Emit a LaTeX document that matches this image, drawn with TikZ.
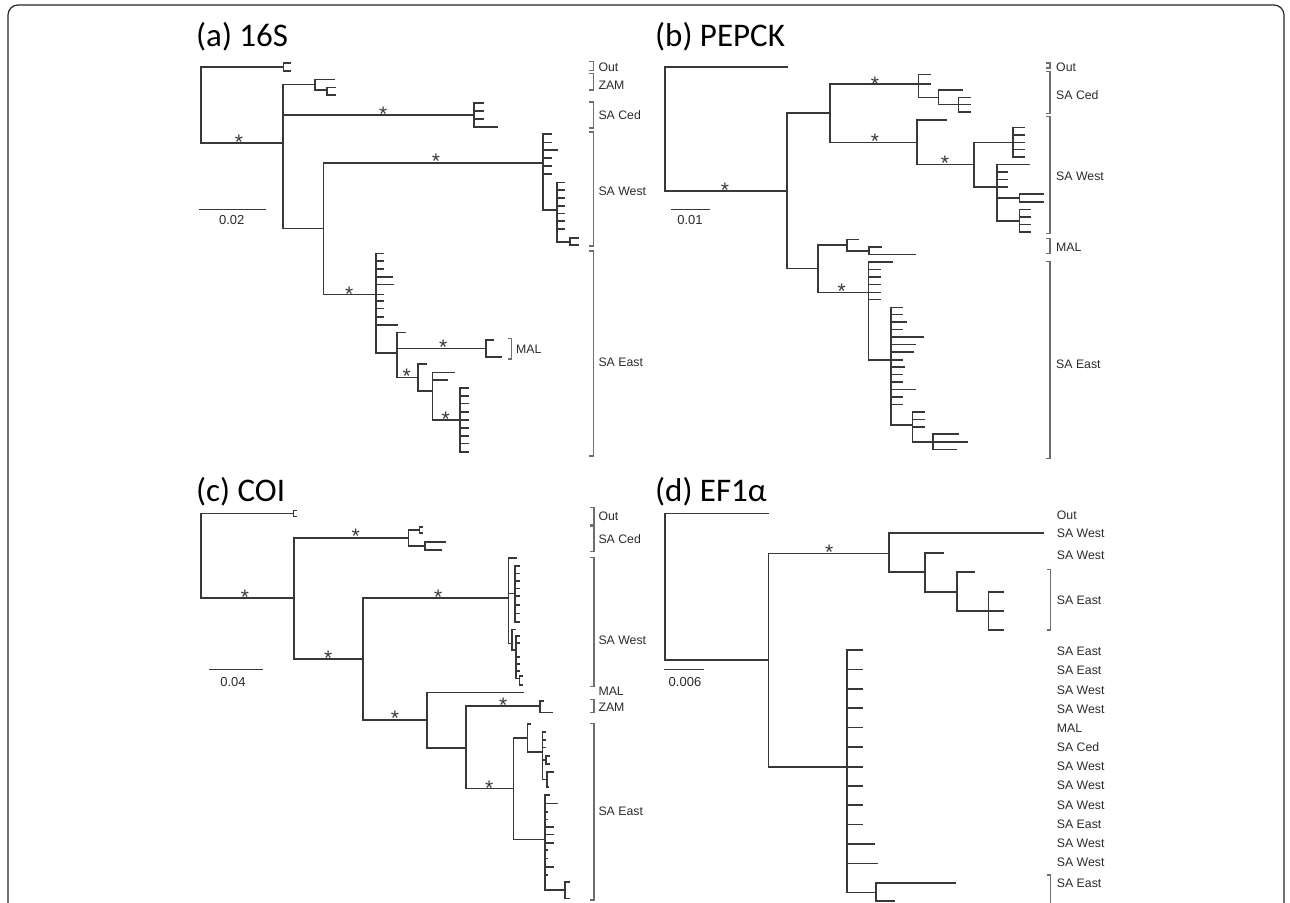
\documentclass[tikz,border=0pt]{standalone}
\usepackage{fontspec}
\setmainfont{Liberation Sans}
\newfontfamily\titlefont{Carlito}
\definecolor{brc}{HTML}{383838}
\definecolor{bkc}{HTML}{6E6E6E}
\definecolor{txc}{HTML}{2A2A2A}
\newcommand\tk[3]{\foreach \yy in {#3}{\draw[br] (#1,\yy) -- (#2,\yy);}}
\newcommand\brk[3]{\draw[bk] (#1-4,#2) -- (#1,#2) -- (#1,#3) -- (#1-4,#3);}
\newcommand\st[3]{\node[stf, anchor=base] (#1) at (#2,#3+11) {*};}
\begin{document}
\begin{tikzpicture}[x=1pt,y=-1pt,
  br/.style={line width=1.6pt, draw=brc, line cap=rect},
  bk/.style={line width=1.1pt, draw=bkc},
  lab/.style={font=\fontsize{12.3}{13}\selectfont, text=txc, anchor=west, inner sep=0pt},
  sc/.style={font=\fontsize{13}{13}\selectfont, text=txc, inner sep=0pt},
  stf/.style={font=\fontsize{21}{21}\selectfont, text=brc, inner sep=0pt},
  ttl/.style={font=\titlefont\fontsize{33}{33}\selectfont, text=black, anchor=base west, inner sep=0pt}]
\useasboundingbox (0,0) rectangle (1290,902);
\clip (0,0) rectangle (1290,902);
% frame
\draw[line width=1.2pt, draw=black!85, rounded corners=10pt] (8,930) -- (8,5) -- (1284,5) -- (1284,930);

% ================= (a) 16S =================
\node[ttl] (ta) at (196,46) {(a) 16S};
\draw[br] (283.3,66.7) -- (201,66.7) -- (201,142.7) -- (282.7,142.7);
\draw[br] (290,62.7) -- (283.3,62.7) -- (283.3,70.7) -- (290,70.7);
\st{sa1}{239}{138}
\draw[br] (315,84.3) -- (282.7,84.3) -- (282.7,228.3) -- (323.3,228.3);
\draw[br] (334,79.3) -- (315,79.3) -- (315,90) -- (326.7,90);
\draw[br] (335,87.3) -- (326.7,87.3) -- (326.7,95) -- (335,95);
\draw[br] (282.7,115) -- (474,115);
\st{sa2}{383.3}{110}
\draw[br] (482.7,102.7) -- (474,102.7) -- (474,126.7) -- (496.7,126.7);
\tk{474}{482.7}{110.7,118.7}
\draw[br] (542.7,162.7) -- (323.3,162.7) -- (323.3,294.3) -- (383.3,294.3);
\st{sa3}{436}{157.3}
\draw[br] (542.7,134) -- (542.7,210) -- (556.7,210);
\tk{542.7}{550.7}{134,142.3,157.7,165.7,174}
\tk{542.7}{557.3}{150}
\draw[br] (556.7,182.3) -- (556.7,241.7) -- (570,241.7);
\tk{556.7}{564}{182.3,190,197.7,205.7,213.3,221,229}
\draw[br] (578.3,237.7) -- (570,237.7) -- (570,245) -- (578.3,245);
\st{sa4}{349.3}{290}
\draw[br] (376,253.3) -- (376,352.7) -- (396.7,352.7);
\tk{376}{383.3}{253.3,261,269,300.7,308.3,316.7}
\tk{376}{391.7}{276.7}
\tk{376}{392.7}{284.3}
\tk{376}{396.7}{325}
\draw[br] (405,332.3) -- (396.7,332.3) -- (396.7,377.3) -- (417.7,377.3);
\draw[br] (396.7,348.3) -- (486,348.3);
\st{sa5}{443.3}{343}
\draw[br] (492.7,340) -- (486,340) -- (486,356.7) -- (501,356.7);
\st{sa6}{406.7}{372.7}
\draw[br] (426,364) -- (417.7,364) -- (417.7,390.7) -- (432.3,390.7);
\draw[br] (454,372.3) -- (432.3,372.3) -- (432.3,420) -- (460,420);
\tk{432.3}{446.7}{380}
\st{sa7}{445.7}{415}
\draw[br] (460,387.7) -- (460,451.7);
\tk{460}{468.3}{387.7,395.7,403.3,411.7,420,427.7,435.7,443.3,451.7}
% MAL bracket
\brk{511.7}{338.3}{359}
\node[lab] (aMAL) at (516,349) {MAL};
% clade brackets
\brk{593.3}{61.7}{70.7}
\node[lab] (aOut) at (598.3,67) {Out};
\brk{593.3}{73.3}{90}
\node[lab] (aZAM) at (598.3,85) {ZAM};
\brk{593.3}{102}{128}
\node[lab] (aCed) at (598.3,115) {SA Ced};
\brk{593.3}{132}{246}
\node[lab] (aWest) at (598.3,191) {SA West};
\brk{593.3}{251}{456}
\node[lab] (aEast) at (598.3,362) {SA East};
% scale
\draw[br, line width=1.1pt] (199.3,209.3) -- (265,209.3);
\node[sc] (ascale) at (231.7,220.5) {0.02};

% ================= (b) PEPCK =================
\node[ttl] (tb) at (655,46) {(b) PEPCK};
\draw[br] (787.3,66.7) -- (665,66.7) -- (665,191) -- (786.7,191);
\st{sb1}{725}{186}
\draw[br] (830,112.7) -- (786.7,112.7) -- (786.7,268.3) -- (817.7,268.3);
\draw[br] (918.3,84) -- (830,84) -- (830,142.3) -- (916.7,142.3);
\st{sb2}{875}{80}
\st{sb3}{875}{137.3}
\draw[br] (930,74.3) -- (918.3,74.3) -- (918.3,97.3) -- (938.3,97.3);
\tk{918.3}{930}{84}
\draw[br] (961.7,90) -- (938.3,90) -- (938.3,104.3) -- (958.3,104.3);
\draw[br] (958.3,97.3) -- (958.3,111.7);
\tk{958.3}{970}{97.3,104.3,111.7}
\draw[br] (946,120) -- (916.7,120) -- (916.7,164.3) -- (974,164.3);
\st{sb4}{945}{159.3}
\draw[br] (1012.7,142.3) -- (974,142.3) -- (974,186.7) -- (996.7,186.7);
\draw[br] (1012.7,127.3) -- (1012.7,156.7);
\tk{1012.7}{1024}{127.3,135,142.3,149.3,156.7}
\draw[br] (1029.3,164.3) -- (996.7,164.3) -- (996.7,220.7) -- (1019.3,220.7);
\tk{996.7}{1007.3}{171.7,179.3,186.7}
\draw[br] (996.7,197.7) -- (1019.3,197.7);
\draw[br] (1042.7,194) -- (1019.3,194) -- (1019.3,201.7) -- (1042.7,201.7);
\draw[br] (1019.3,209.3) -- (1019.3,231.7);
\tk{1019.3}{1030}{209.3,216.7,224.3,231.7}
\draw[br] (846.7,245) -- (817.7,245) -- (817.7,292.3) -- (868.3,292.3);
\st{sb5}{841.7}{287.3}
\draw[br] (858.3,239.3) -- (846.7,239.3) -- (846.7,250.7) -- (869,250.7);
\draw[br] (881,246.7) -- (869,246.7) -- (869,254.3) -- (915,254.3);
\draw[br] (891.7,261.7) -- (868.3,261.7) -- (868.3,360) -- (902.3,360);
\tk{868.3}{880}{269.3,276.7,284.3,292.3,299.3}
\draw[br] (890.7,307.3) -- (890.7,425) -- (912.3,425);
\tk{890.7}{902.3}{307.3,314.3,329.3,374.3,381.7,396.7,404.3}
\tk{890.7}{905.7}{321.7}
\tk{890.7}{923.3}{336.7}
\tk{890.7}{915}{344.3,389.3}
\tk{890.7}{913.3}{351.7}
\tk{890.7}{904.3}{366.7}
\draw[br] (912.3,411.7) -- (912.3,441.7) -- (932.7,441.7);
\tk{912.3}{924.3}{411.7,419.3,426.7}
\draw[br] (958.3,434) -- (932.7,434) -- (932.7,449.3) -- (956,449.3);
\tk{932.7}{967.3}{441.7}
% brackets
\brk{1050}{63}{68}
\node[lab] (bOut) at (1056,67) {Out};
\brk{1050}{71.7}{113.3}
\node[lab] (bCed) at (1056,95) {SA Ced};
\brk{1050}{116.7}{233.3}
\node[lab] (bWest) at (1056,176.7) {SA West};
\brk{1050}{238.3}{253.3}
\node[lab] (bMAL) at (1056,247) {MAL};
\brk{1050}{261.7}{458.3}
\node[lab] (bEast) at (1056,364) {SA East};
\draw[br, line width=1.1pt] (671.7,209.3) -- (709.3,209.3);
\node[sc] (bscale) at (690,220) {0.01};

% ================= (c) COI =================
\node[ttl] (tc) at (196,501) {(c) COI};
\draw[br] (293.3,513.3) -- (201,513.3) -- (201,597.7) -- (294,597.7);
\draw[br] (296,510.5) -- (293.3,510.5) -- (293.3,516.5) -- (296,516.5);
\st{sc1}{245}{593.3}
\draw[br] (408.3,537.7) -- (294,537.7) -- (294,659) -- (362.7,659);
\st{sc2}{355.7}{532.7}
\st{sc3}{328.3}{654}
\draw[br] (419.3,530) -- (408.3,530) -- (408.3,546) -- (425,546);
\draw[br] (421.7,527) -- (419.3,527) -- (419.3,533) -- (421.7,533);
\draw[br] (445,541.7) -- (425,541.7) -- (425,550) -- (440.7,550);
\draw[br] (508.3,597.7) -- (362.7,597.7) -- (362.7,720) -- (426.7,720);
\st{sc4}{438.3}{593.3}
\st{sc5}{395}{714}
\draw[br] (516,557.7) -- (508.3,557.7) -- (508.3,643.3) -- (511.7,643.3);
\tk{508.3}{515}{593.3}
\draw[br] (515,565.7) -- (515,621.7);
\tk{515}{519.3}{565.7,573.3,581,588.3,596,605,613.3,621.7}
\draw[br] (515,629.3) -- (511.7,629.3) -- (511.7,650) -- (516,650);
\draw[br] (516,636) -- (516,678.3) -- (519.3,678.3);
\tk{516}{519.3}{636,643,657,664,671}
\draw[br] (522,676) -- (519.3,676) -- (519.3,685) -- (522,685);
\draw[br] (523.3,692.3) -- (426.7,692.3) -- (426.7,747.7) -- (465.7,747.7);
\draw[br] (540,706) -- (465.7,706) -- (465.7,788.3) -- (513.3,788.3);
\st{sc6}{503.3}{701.7}
\st{sc7}{489.3}{784}
\draw[br] (542.7,700.7) -- (540,700.7) -- (540,712.3) -- (551.7,712.3);
\draw[br] (527.3,737.7) -- (513.3,737.7) -- (513.3,839.3) -- (545,839.3);
\draw[br] (530,724) -- (527.3,724) -- (527.3,751.7) -- (542.3,751.7);
\draw[br] (542.3,731.7) -- (542.3,779.3) -- (546.7,779.3);
\tk{542.3}{545}{731.7,740,747.3}
\tk{542.3}{545.7}{760}
\draw[br] (549,756) -- (545.7,756) -- (545.7,764) -- (549,764);
\draw[br] (553.3,771.7) -- (546.7,771.7) -- (546.7,786.7) -- (548,786.7);
\draw[br] (545,795) -- (545,890) -- (565,890);
\tk{545}{549.3}{795}
\tk{545}{556.7}{803.3}
\tk{545}{546.7}{811.7,819.3,850,858.3,875}
\tk{545}{552.7}{826.7,834.3,842.7,866.7}
\draw[br] (569.3,881.7) -- (565,881.7) -- (565,898.3) -- (569.3,898.3);
% brackets
\brk{594}{507.3}{525}
\node[lab] (cOut) at (598.3,516.7) {Out};
\brk{594}{526}{551.7}
\node[lab] (cCed) at (598.3,539.3) {SA Ced};
\brk{594}{557.3}{686.7}
\node[lab] (cWest) at (598.3,640) {SA West};
\node[lab] (cMAL) at (598.3,691.7) {MAL};
\brk{594}{699.3}{712.7}
\node[lab] (cZAM) at (598.3,707.3) {ZAM};
\brk{594}{723.3}{900}
\node[lab] (cEast) at (598.3,811.7) {SA East};
\draw[br, line width=1.1pt] (209.3,669.3) -- (262.7,669.3);
\node[sc] (cscale) at (233,682) {0.04};

% ================= (d) EF1a =================
\node[ttl] (td) at (655,501) {(d) EF1α};
\draw[br] (768.3,513.3) -- (665,513.3) -- (665,660) -- (768.3,660);
\draw[br] (889,553.3) -- (768.3,553.3) -- (768.3,766.7) -- (846.7,766.7);
\st{sd1}{829.3}{548.3}
\draw[br] (1043.3,532.7) -- (889,532.7) -- (889,571.7) -- (925,571.7);
\draw[br] (942.7,552.7) -- (925,552.7) -- (925,591.7) -- (956.7,591.7);
\draw[br] (974,571.7) -- (956.7,571.7) -- (956.7,611) -- (988.3,611);
\draw[br] (1003.3,591.7) -- (988.3,591.7) -- (988.3,630) -- (1003.3,630);
\tk{988.3}{1003.3}{611}
\draw[br] (846.7,650) -- (846.7,892.3) -- (875.7,892.3);
\tk{846.7}{861.7}{650,669.3,688.7,708,727.3,746.7,766.7,785.7,805,824.3}
\tk{846.7}{874.3}{843.7}
\tk{846.7}{876.7}{863.3}
\draw[br] (955,882.7) -- (875.7,882.7) -- (875.7,901) -- (894,901);
\brk{1050.7}{569.3}{630}
\draw[bk] (1046.7,875) -- (1050.7,875) -- (1050.7,910);
\node[lab] (d1) at (1056.7,515) {Out};
\node[lab] (d2) at (1056.7,533.3) {SA West};
\node[lab] (d3) at (1056.7,555) {SA West};
\node[lab] (d4) at (1056.7,600) {SA East};
\node[lab] (d5) at (1056.7,651.7) {SA East};
\node[lab] (d6) at (1056.7,670.7) {SA East};
\node[lab] (d7) at (1056.7,690) {SA West};
\node[lab] (d8) at (1056.7,709.3) {SA West};
\node[lab] (d9) at (1056.7,728.3) {MAL};
\node[lab] (d10) at (1056.7,747.3) {SA Ced};
\node[lab] (d11) at (1056.7,766.7) {SA West};
\node[lab] (d12) at (1056.7,785.7) {SA West};
\node[lab] (d13) at (1056.7,805) {SA West};
\node[lab] (d14) at (1056.7,824) {SA East};
\node[lab] (d15) at (1056.7,843.3) {SA West};
\node[lab] (d16) at (1056.7,862.3) {SA West};
\node[lab] (d17) at (1056.7,883.3) {SA East};
\draw[br, line width=1.1pt] (665,669.3) -- (703.3,669.3);
\node[sc] (dscale) at (685,682) {0.006};
\end{tikzpicture}
\end{document}
